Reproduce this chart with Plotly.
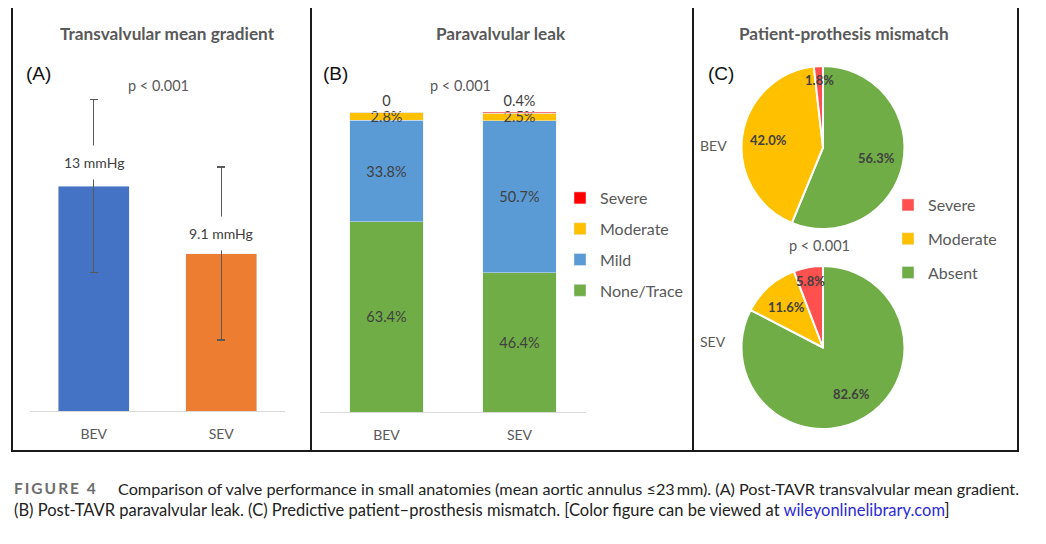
import math
import plotly.graph_objects as go

# The page body has an 8px margin; the figure is sized to fit the window
OFF = 8
W, H = 1046 - OFF, 544 - OFF
def px(x): return (x - OFF) / W
def py(y): return 1 - (y - OFF) / H

FONT = "Lato"
GRAY = "#595959"
DARK = "#404040"

# ---------------- data ----------------
valves = ["BEV", "SEV"]

# (A) transvalvular mean gradient
gradient_mean = [13, 9.1]
gradient_err = [5, 5]
gradient_colors = ["#4472C4", "#ED7D31"]

# (B) paravalvular leak (%)
pvl_none = [63.4, 46.4]
pvl_mild = [33.8, 50.7]
pvl_moderate = [2.8, 2.5]
pvl_severe = [0, 0.4]
pvl_severe_text = ["0", "0.4%"]

# (C) patient-prosthesis mismatch (%)
ppm_labels = ["Absent", "Moderate", "Severe"]
ppm_bev = [56.3, 42.0, 1.8]
ppm_sev = [82.6, 11.6, 5.8]
ppm_colors = ["#70AD47", "#FFC000", "#FF5050"]

fig = go.Figure()

# ---------------- Panel A ----------------
fig.add_trace(go.Bar(
    x=valves, y=gradient_mean, marker_color=gradient_colors, showlegend=False,
    error_y=dict(type="data", array=gradient_err, color=GRAY, thickness=1.2, width=4),
    xaxis="x", yaxis="y", hoverinfo="x+y"))

# ---------------- Panel B ----------------
pvl_series = [
    ("None/Trace", pvl_none, "#70AD47", 4),
    ("Mild", pvl_mild, "#5B9BD5", 3),
    ("Moderate", pvl_moderate, "#FFC000", 2),
]
for name, vals, col, rank in pvl_series:
    fig.add_trace(go.Bar(
        x=valves, y=vals, name=name, marker_color=col, legendgroup=name, legendrank=rank,
        text=[f"{v:.1f}%" for v in vals], textposition="inside",
        insidetextanchor="middle", constraintext="none",
        textfont=dict(family=FONT, size=14.5, color=DARK),
        xaxis="x2", yaxis="y2", cliponaxis=False))
fig.add_trace(go.Bar(
    x=valves, y=pvl_severe, name="Severe", marker_color="#FF0000", legendgroup="Severe",
    legendrank=1, text=pvl_severe_text, textposition="outside", constraintext="none",
    textfont=dict(family=FONT, size=14.5, color=DARK),
    xaxis="x2", yaxis="y2", cliponaxis=False))

# ---------------- Panel C (pies) ----------------
R = 81.5
cx = 823
cy_bev, cy_sev = 147.5, 347.5
for vals, cy, nm in [(ppm_bev, cy_bev, "BEV"), (ppm_sev, cy_sev, "SEV")]:
    fig.add_trace(go.Pie(
        labels=ppm_labels, values=vals, name=nm, sort=False, direction="clockwise",
        rotation=0, marker=dict(colors=ppm_colors, line=dict(color="white", width=2)),
        textinfo="none", showlegend=False,
        domain=dict(x=[px(cx - R), px(cx + R)], y=[py(cy + R), py(cy - R)])))

# legend entries for the pies (legend2)
for lab, col in list(zip(ppm_labels, ppm_colors))[::-1]:
    fig.add_trace(go.Bar(x=[None], y=[None], name=lab, marker_color=col,
                         legend="legend2", legendgroup="c_" + lab,
                         xaxis="x3", yaxis="y3"))

ann = []
def text(x, y, s, size=14, color=GRAY, xanchor="center", bold=False, family=FONT, **kw):
    if bold:
        s = f"<b>{s}</b>"
    ann.append(dict(x=px(x), y=py(y), xref="paper", yref="paper", text=s, showarrow=False,
                    xanchor=xanchor, yanchor="middle",
                    font=dict(family=family, size=size, color=color), **kw))

# pie slice labels, positioned from the slice angles
for vals, cy in [(ppm_bev, cy_bev), (ppm_sev, cy_sev)]:
    total = sum(vals)
    cum = 0
    for v in vals:
        th = 2 * math.pi * (cum + v / 2) / total
        rf = 0.83 if v < 7 else 0.67
        text(cx + rf * R * math.sin(th), cy - rf * R * math.cos(th), f"{v:.1f}%",
             size=13, color=DARK, bold=True)
        cum += v

# bar value labels in panel A (white box interrupts error bar)
for v, cat, ys in zip(gradient_mean, valves, [24, 20]):
    ann.append(dict(x=cat, y=v, xref="x", yref="y", text=f"{v:g} mmHg", showarrow=False,
                    yshift=ys, bgcolor="white", borderpad=8,
                    font=dict(family=FONT, size=14, color=DARK)))

# titles
text(167, 33, "Transvalvular mean gradient", size=17.2, bold=True)
text(501, 33, "Paravalvular leak", size=17.2, bold=True)
text(844, 33, "Patient-prothesis mismatch", size=17.2, bold=True)
# panel letters
text(24, 73, "(A)", size=19, color="#111111", xanchor="left", family="Liberation Sans")
text(321, 73, "(B)", size=19, color="#111111", xanchor="left", family="Liberation Sans")
text(706, 74, "(C)", size=19, color="#111111", xanchor="left", family="Liberation Sans")
# p values
text(158, 85, "p &lt; 0.001", size=14.5)
text(460, 85, "p &lt; 0.001", size=14.5)
text(819, 245, "p &lt; 0.001", size=14.5)
# pie row labels
text(713, 145, "BEV")
text(713, 341, "SEV")

# caption
text(12, 488, '<span style="letter-spacing:2px">FIGURE 4</span>', size=15.5,
     color="#6d6d6d", xanchor="left", bold=True)
text(116, 488, "Comparison of valve performance in small anatomies (mean aortic annulus ≤23\u2009mm). "
     "(A) Post-TAVR transvalvular mean gradient.", size=16.2, color="#222222", xanchor="left")
text(12, 510, "(B) Post-TAVR paravalvular leak. (C) Predictive patient\u2013prosthesis mismatch. "
     '[Color figure can be viewed at <span style="color:#2b2bd9">wileyonlinelibrary.com</span>]',
     size=16.5, color="#222222", xanchor="left")

# panel frames
shapes = []
for x0, x1 in [(12, 311), (311, 693), (693, 1018)]:
    shapes.append(dict(type="rect", xref="paper", yref="paper",
                       x0=px(x0), x1=px(x1), y0=py(451), y1=py(5),
                       line=dict(color="#1a1a1a", width=2), fillcolor="rgba(0,0,0,0)"))

xcommon = dict(type="category", showline=True, linecolor="#D9D9D9", linewidth=1,
               ticks="", showgrid=False, zeroline=False, ticklabelstandoff=10,
               tickfont=dict(family=FONT, size=14, color=GRAY), range=[-0.5, 1.5])
ycommon = dict(visible=False, showgrid=False, zeroline=False)

fig.update_layout(
    width=W, height=H, margin=dict(l=0, r=0, t=0, b=0),
    paper_bgcolor="white", plot_bgcolor="white",
    barmode="stack", bargap=0.444,
    xaxis=dict(domain=[px(30), px(285)], anchor="y", **xcommon),
    yaxis=dict(domain=[py(411), py(65)], range=[0, 20], anchor="x", **ycommon),
    xaxis2=dict(domain=[px(320), px(586)], anchor="y2", **xcommon),
    yaxis2=dict(domain=[py(412), py(62)], range=[0, 116.67], anchor="x2", **ycommon),
    xaxis3=dict(domain=[0, 0.001], anchor="y3", visible=False),
    yaxis3=dict(domain=[0, 0.001], anchor="x3", visible=False),
    legend=dict(x=px(560), y=py(181), xanchor="left", yanchor="top",
                traceorder="grouped", tracegroupgap=7, bgcolor="rgba(0,0,0,0)",
                font=dict(family=FONT, size=16, color=GRAY), itemclick=False),
    legend2=dict(x=px(888), y=py(188), xanchor="left", yanchor="top",
                 traceorder="grouped", tracegroupgap=10, bgcolor="rgba(0,0,0,0)",
                 font=dict(family=FONT, size=16, color=GRAY), itemclick=False),
    annotations=ann, shapes=shapes,
    font=dict(family=FONT),
)

fig.write_html("out.html")
